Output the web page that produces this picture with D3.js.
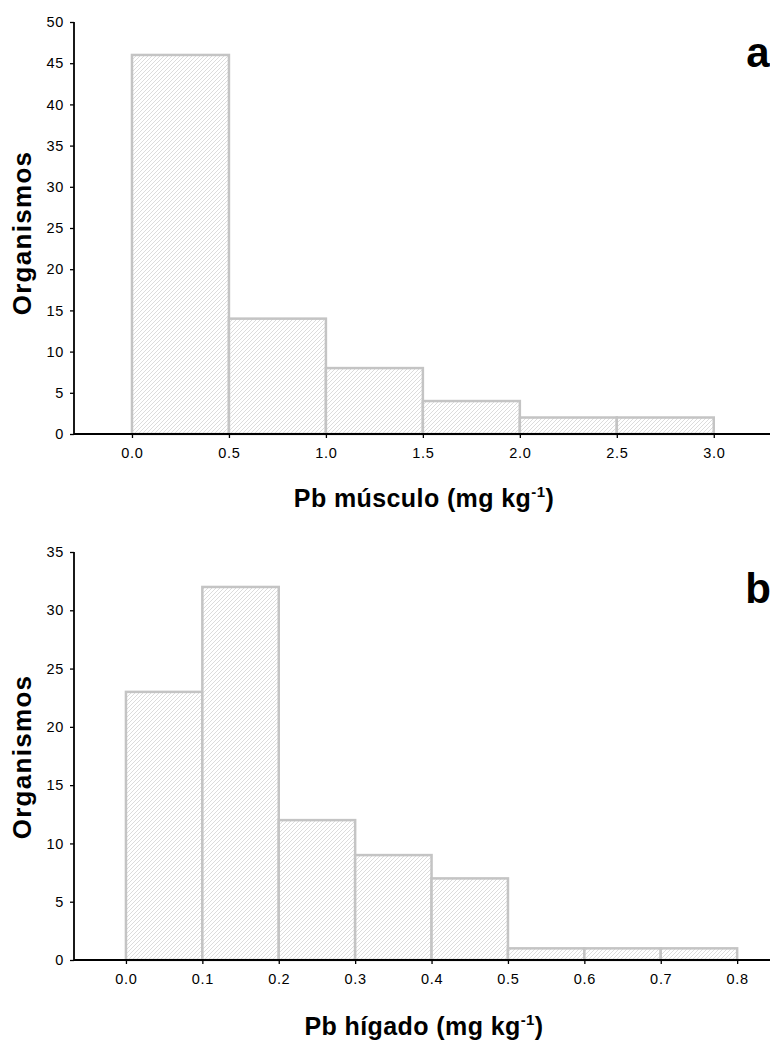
<!DOCTYPE html>
<html><head><meta charset="utf-8">
<script src="https://cdn.jsdelivr.net/npm/d3@7"></script>
<style>body{margin:0;background:#fff}text{font-family:"Liberation Sans",Arial,sans-serif}</style>
</head><body><svg id="c" width="770" height="1045"></svg>
<script>
const binsA = [0, 0.5, 1.0, 1.5, 2.0, 2.5, 3.0];
const countsA = [46, 14, 8, 4, 2, 2];
const xTicksA = ["0.0","0.5","1.0","1.5","2.0","2.5","3.0"];
const yTicksA = [0,5,10,15,20,25,30,35,40,45,50];

const binsB = [0,0.1,0.2,0.3,0.4,0.5,0.6,0.7,0.8];
const countsB = [23, 32, 12, 9, 7, 1, 1, 1];
const xTicksB = ["0.0","0.1","0.2","0.3","0.4","0.5","0.6","0.7","0.8"];
const yTicksB = [0,5,10,15,20,25,30,35];

const svg = d3.select("#c");
const defs = svg.append("defs");
const pat = defs.append("pattern").attr("id","hatch").attr("patternUnits","userSpaceOnUse")
  .attr("width",4).attr("height",4);
pat.append("rect").attr("width",4).attr("height",4).attr("fill","#fff");
pat.append("path").attr("d","M-1,1 l2,-2 M0,4 l4,-4 M3,5 l2,-2").attr("stroke","#d6d6d6").attr("stroke-width",0.85);

function panel(o){
  const g = svg.append("g");
  const x = d3.scaleLinear().domain(o.xdom).range([o.x0, o.x1]);
  const y = d3.scaleLinear().domain([0, o.ymax]).range([o.yb, o.yt]);
  const data = o.counts.map((c,i)=>({a:o.bins[i], b:o.bins[i+1], c}));
  g.selectAll("rect.bar").data(data).join("rect").attr("class","bar")
    .attr("x", d=>x(d.a)).attr("width", d=>x(d.b)-x(d.a))
    .attr("y", d=>y(d.c)).attr("height", d=>y(0)-y(d.c))
    .attr("fill","url(#hatch)").attr("stroke","#c4c4c4").attr("stroke-width",2.5);
  const ya = g.append("g").attr("transform",`translate(${o.x0},0)`)
    .call(d3.axisLeft(y).tickValues(o.yticks).tickSize(4).tickPadding(7).tickFormat(d3.format("d")));
  const xa = g.append("g").attr("transform",`translate(0,${o.yb})`)
    .call(d3.axisBottom(x).tickValues(o.bins).tickSize(4).tickPadding(10).tickFormat((d,i)=>o.xticks[i]));
  [ya, xa].forEach(a=>{
    a.attr("font-size",null).attr("font-family",null);
    a.selectAll("text").style("font-size","14.5px").style("letter-spacing","0.7px").attr("fill","#000");
    a.selectAll("line").attr("stroke","#000").attr("stroke-width",1.3);
    a.select(".domain").remove();
  });
  ya.selectAll("text").attr("dx", 1);
  g.append("line").attr("x1",o.x0).attr("x2",o.x0).attr("y1",o.yt).attr("y2",o.yb).attr("stroke","#000").attr("stroke-width",1.8);
  g.append("line").attr("x1",o.x0).attr("x2",o.x1).attr("y1",o.yb).attr("y2",o.yb).attr("stroke","#000").attr("stroke-width",1.8);
  g.append("text").attr("transform",`translate(31,${o.ylabY}) rotate(-90)`).attr("text-anchor","middle")
    .style("font-size","26px").style("letter-spacing","1.3px").attr("font-weight","bold").text("Organismos");
  const t = g.append("text").attr("x",o.xlabX).attr("y",o.xlabY).attr("text-anchor","middle")
    .style("font-size","25px").style("letter-spacing","0.4px").attr("font-weight","bold");
  t.append("tspan").text(o.xlab + " (mg kg");
  t.append("tspan").attr("dy",-10).style("font-size","15px").text("-1");
  t.append("tspan").attr("dy",10).text(")");
  g.append("text").attr("x",o.letterX).attr("y",o.letterY).attr("text-anchor","middle")
    .style("font-size","42px").attr("font-weight","bold").text(o.letter);
}

panel({bins:binsA, counts:countsA, xticks:xTicksA, yticks:yTicksA, ymax:50,
  xdom:[-0.299, 3.29], x0:74, x1:770, yb:434, yt:22,
  ylabY:233, xlab:"Pb músculo", xlabX:424, xlabY:507, letter:"a", letterX:758, letterY:67});
panel({bins:binsB, counts:countsB, xticks:xTicksB, yticks:yTicksB, ymax:35,
  xdom:[-0.068, 0.843], x0:74, x1:770, yb:960, yt:552,
  ylabY:757, xlab:"Pb hígado", xlabX:424, xlabY:1035, letter:"b", letterX:758, letterY:603});
</script></body></html>
